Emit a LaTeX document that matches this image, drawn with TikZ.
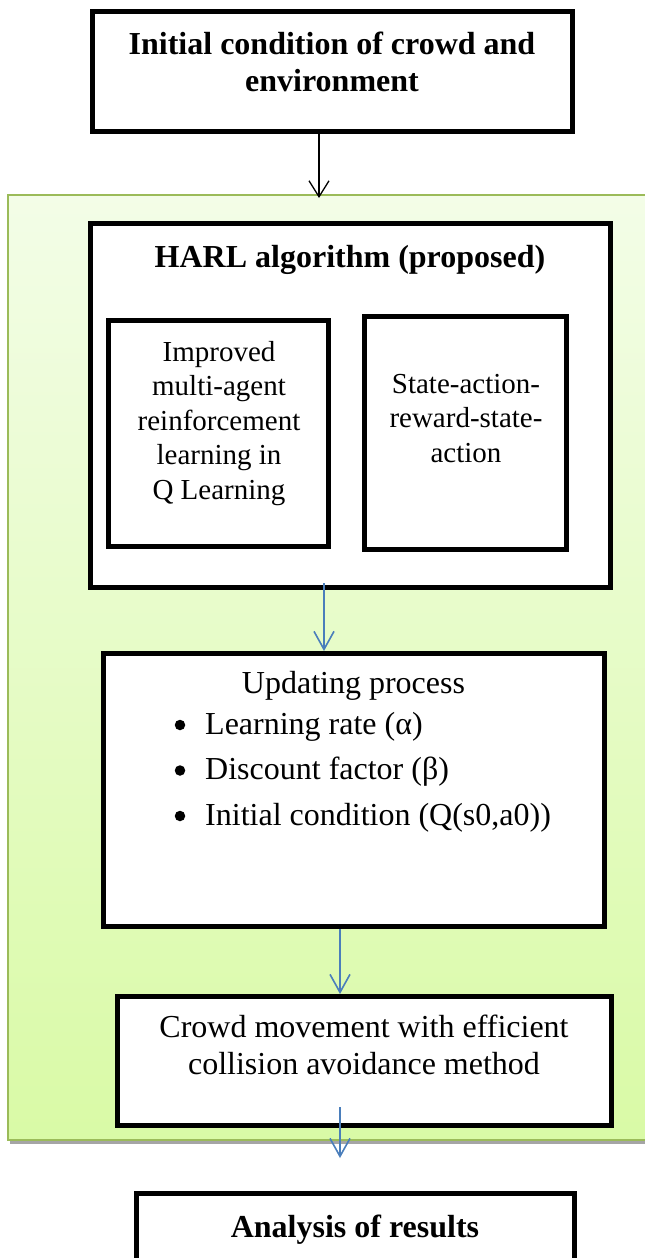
\documentclass[tikz,border=0pt]{standalone}
\usepackage{fontspec}
\setmainfont{Liberation Serif}
\usepackage{graphicx}
\usetikzlibrary{arrows.meta}
\definecolor{greenTop}{HTML}{F3FDE7}
\definecolor{greenBot}{HTML}{D9FAA6}
\definecolor{greenBorder}{HTML}{9BBB59}
\definecolor{shadowGray}{HTML}{A5A5A5}
\definecolor{arrowBlue}{HTML}{4A7EBB}
\newcommand{\lines}[1]{\begin{tabular}[t]{@{}c@{}}#1\end{tabular}}
\begin{document}
\begin{tikzpicture}[x=1pt,y=-1pt,
  boxnode/.style={draw=black, line width=5pt, fill=white, inner sep=0pt, rectangle},
  bigfont/.style={font=\fontsize{32}{37}\selectfont},
  bigbold/.style={font=\fontsize{32}{37}\selectfont\bfseries},
  smallfont/.style={font=\fontsize{29}{34.5}\selectfont},
  txt/.style={inner sep=0pt, anchor=base},
  bulletdot/.style={circle, fill=black, inner sep=0pt, minimum size=10.5pt},
  blackarrow/.style={draw=black, line width=1.3pt, -{Straight Barb[length=16pt,width=20pt]}},
  bluearrow/.style={draw=arrowBlue, line width=1.6pt, -{Straight Barb[length=18pt,width=20pt]}}
]
\useasboundingbox (0,0) rectangle (645,1258);
\clip (0,0) rectangle (645,1258);
\fill[white] (0,0) rectangle (645,1258);

% green panel with shadow
\fill[shadowGray] (10,198) rectangle (665,1144);
\node[draw=greenBorder, line width=2pt, top color=greenTop, bottom color=greenBot,
      minimum width=653pt, minimum height=945pt, inner sep=0pt, anchor=north west] (panel) at (7,194) {};

% boxes
\node[boxnode, minimum width=480pt, minimum height=120pt] (top) at (332.5,71.5) {};
\node[boxnode, minimum width=520pt, minimum height=364pt] (harl) at (350.5,405.5) {};
\node[boxnode, minimum width=220pt, minimum height=226pt] (qlearn) at (218.5,433.5) {};
\node[boxnode, minimum width=202pt, minimum height=233pt] (sarsa) at (465.5,433) {};
\node[boxnode, minimum width=501pt, minimum height=273pt] (upd) at (354,790) {};
\node[boxnode, minimum width=494pt, minimum height=129pt] (crowd) at (364.5,1061) {};
\node[boxnode, minimum width=438pt, minimum height=130pt] (anal) at (355.5,1258.5) {};

% texts
\node[txt, bigbold] (toptxt) at (332,54) {\lines{Initial condition of crowd and\\environment}};
\node[txt, bigbold] (harltxt) at (350,267) {HARL algorithm (proposed)};
\node[txt, smallfont] (qtxt) at (219,361) {\lines{Improved\\multi-agent\\reinforcement\\learning in\\Q Learning}};
\node[txt, smallfont] (sarsatxt) at (466,393) {\lines{State-action-\\reward-state-\\action}};
\node[txt, bigfont] (updtxt) at (353.5,693) {Updating process};
\node[bulletdot] (b1) at (180,725) {};
\node[bulletdot] (b2) at (180,770.5) {};
\node[bulletdot] (b3) at (180,816) {};
\node[txt, bigfont, anchor=base west] (i1) at (205,734) {Learning rate (α)};
\node[txt, bigfont, anchor=base west] (i2) at (205,779.5) {Discount factor (β)};
\node[txt, bigfont, anchor=base west] (i3) at (205,825) {Initial condition (Q(s0,a0))};
\node[txt, bigfont] (crowdtxt) at (364,1037) {\lines{Crowd movement with efficient\\collision avoidance method}};
\node[txt, bigbold] (analtxt) at (355,1237) {Analysis of results};

% connectors
\coordinate (a1) at (319,198);
\draw[blackarrow] (a1 |- top.south) -- (a1);
\coordinate (a2s) at (324,583);
\coordinate (a2e) at (324,648);
\draw[bluearrow] (a2s) -- (a2e |- upd.north);
\coordinate (a3) at (340,932);
\draw[bluearrow] (a3 |- upd.south) -- (a3 |- crowd.north);
\coordinate (a4s) at (340,1107);
\coordinate (a4e) at (340,1158);
\draw[bluearrow] (a4s) -- (a4e);
\end{tikzpicture}
\end{document}
